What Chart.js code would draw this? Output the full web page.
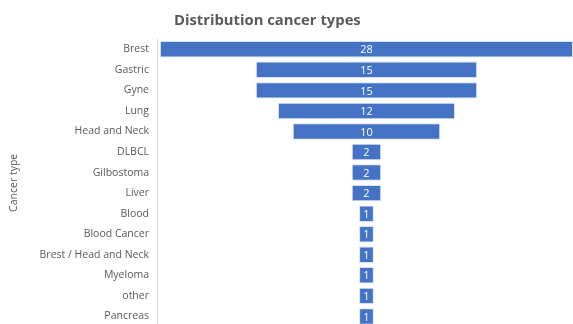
<!DOCTYPE html>
<html>
<head>
<meta charset="utf-8">
<script src="https://cdn.jsdelivr.net/npm/chart.js@4.4.1/dist/chart.umd.min.js"></script>
<style>
  html, body { margin: 0; padding: 0; background: #fff; overflow: hidden; }
  #wrap { position: relative; width: 573px; height: 333px; }
  #title {
    position: absolute; left: 174px; top: 9px;
    font: bold 14.8px "Open Sans", sans-serif; color: #595959;
  }
</style>
</head>
<body>
<div id="wrap">
  <canvas id="funnelChart"></canvas>
  <div id="title">Distribution cancer types</div>
</div>
<script>
// cancer types and patient counts
var categories = ['Brest', 'Gastric', 'Gyne', 'Lung', 'Head and Neck', 'DLBCL', 'Gilbostoma', 'Liver',
    'Blood', 'Blood Cancer', 'Brest / Head and Neck', 'Myeloma', 'other', 'Pancreas'];
var counts = [28, 15, 15, 12, 10, 2, 2, 2, 1, 1, 1, 1, 1, 1];

// funnel: each bar is centred on zero
var spans = counts.map(function (v) { return [-v / 2, v / 2]; });

// draws the count in the middle of each bar
var barLabels = {
    id: 'barLabels',
    afterDatasetsDraw: function (chart) {
        var ctx = chart.ctx;
        var meta = chart.getDatasetMeta(0);
        ctx.save();
        ctx.fillStyle = '#ffffff';
        ctx.font = '11px "Open Sans", sans-serif';
        ctx.textAlign = 'center';
        ctx.textBaseline = 'middle';
        meta.data.forEach(function (bar, i) {
            ctx.fillText(counts[i], (bar.x + bar.base) / 2, bar.y + 1);
        });
        ctx.restore();
    }
};

var ctx = document.getElementById('funnelChart').getContext('2d');
new Chart(ctx, {
    type: 'bar',
    data: {
        labels: categories,
        datasets: [{
            label: 'Cancer types',
            data: spans,
            backgroundColor: '#4472C4',
            borderColor: 'rgba(200, 215, 240, 0.7)',
            borderWidth: 1,
            borderSkipped: false,
            categoryPercentage: 1,
            barPercentage: 0.8
        }]
    },
    options: {
        indexAxis: 'y',
        responsive: true,
        maintainAspectRatio: false,
        animation: false,
        layout: { padding: { top: 39, right: 0, bottom: 0, left: 0 } },
        plugins: {
            legend: { display: false },
            title: { display: false },
            tooltip: {
                callbacks: {
                    label: function (item) { return counts[item.dataIndex]; }
                }
            }
        },
        scales: {
            x: {
                display: false,
                min: -14.2,
                max: 14
            },
            y: {
                afterFit: function (scale) { scale.width = 157; },
                grid: { display: false },
                border: { display: true, color: '#d9d9d9' },
                ticks: {
                    color: '#595959',
                    font: { family: 'Open Sans', size: 10.5 },
                    padding: 0
                },
                title: {
                    display: true,
                    text: 'Cancer type',
                    color: '#595959',
                    font: { family: 'Open Sans', size: 10.5 },
                    padding: { top: 8, bottom: 0 }
                }
            }
        }
    },
    plugins: [barLabels]
});
</script>
</body>
</html>
